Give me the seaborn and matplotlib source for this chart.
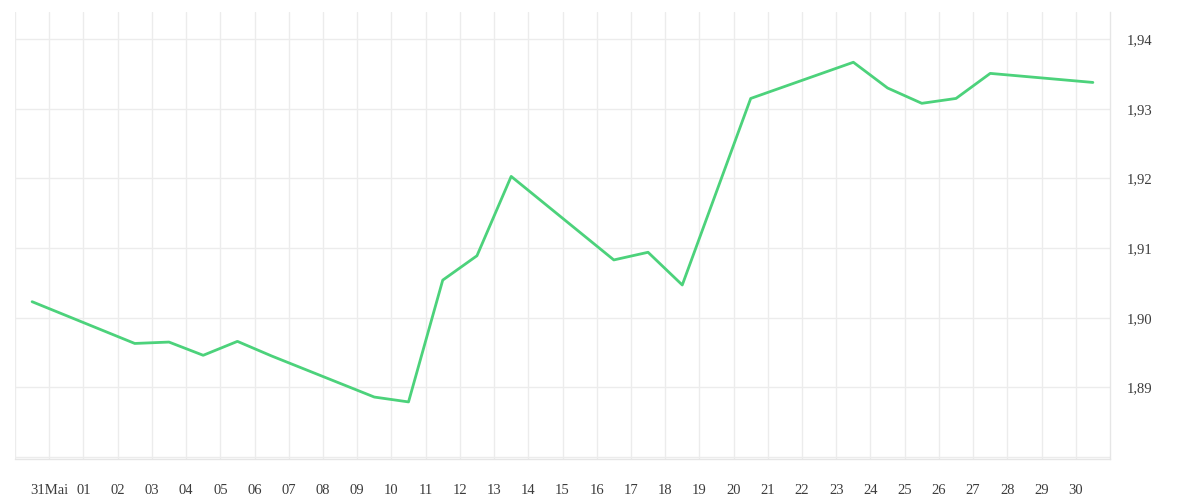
import pandas as pd
import matplotlib
matplotlib.use("Agg")
import matplotlib.pyplot as plt
import seaborn as sns

# Daily rates (trading days only)
dates = [
    "2025-05-30", "2025-06-02", "2025-06-03", "2025-06-04", "2025-06-05",
    "2025-06-06", "2025-06-09", "2025-06-10", "2025-06-11", "2025-06-12",
    "2025-06-13", "2025-06-16", "2025-06-17", "2025-06-18", "2025-06-20",
    "2025-06-23", "2025-06-24", "2025-06-25", "2025-06-26", "2025-06-27",
    "2025-06-30",
]
rates = [
    1.9023, 1.8963, 1.8965, 1.8946, 1.8966,
    1.8945, 1.8886, 1.8879, 1.9054, 1.9089,
    1.9203, 1.9083, 1.9094, 1.9047, 1.9315,
    1.9367, 1.9330, 1.9308, 1.9315, 1.9351,
    1.9338,
]

# Axis ticks
tick_days = pd.date_range("2025-05-31", "2025-06-30", freq="D")
tick_labels = ["31Mai"] + [f"{d.day:02d}" for d in tick_days[1:]]
y_ticks = [1.89, 1.90, 1.91, 1.92, 1.93, 1.94]
y_labels = ["1,89", "1,90", "1,91", "1,92", "1,93", "1,94"]

df = pd.DataFrame({
    "date": pd.to_datetime(dates) + pd.Timedelta(hours=12),
    "rate": rates,
})

sns.set_style("white")
plt.rcParams["font.family"] = ["Liberation Serif", "DejaVu Serif"]

grid_color = "#ececec"
text_color = "#3c3c3c"

fig = plt.figure(figsize=(12, 5), dpi=100)
ax = fig.add_axes([15 / 1200, 1 - 459 / 500, (1110 - 15) / 1200, (459 - 12) / 500])

sns.lineplot(data=df, x="date", y="rate", ax=ax, color="#4cd27b", linewidth=2)

ax.set_xlim(pd.Timestamp("2025-05-30"), pd.Timestamp("2025-07-01"))
ax.set_ylim(1.8797, 1.94392)

# grid lines
ax.set_xticks(tick_days)
ax.set_xticklabels(tick_labels)
ax.set_yticks(y_ticks)
ax.set_yticklabels(y_labels)
ax.grid(True, color=grid_color, linewidth=1)
ax.axvline(pd.Timestamp("2025-05-30"), color=grid_color, linewidth=1)
ax.axhline(1.88, color=grid_color, linewidth=1)

ax.yaxis.tick_right()
ax.tick_params(axis="x", length=8, width=1, color=grid_color, pad=10,
               labelsize=10.5, labelcolor=text_color)
ax.tick_params(axis="y", length=0, pad=12, labelsize=10.5, labelcolor=text_color)
for lbl in ax.get_yticklabels():
    lbl.set_horizontalalignment("left")
    lbl.set_verticalalignment("center_baseline")

ax.set_xlabel("")
ax.set_ylabel("")
for side in ["top", "left"]:
    ax.spines[side].set_visible(False)
for side in ["bottom", "right"]:
    ax.spines[side].set_color("#e6e6e6")
    ax.spines[side].set_linewidth(1)

fig.savefig("out.png", dpi=100)
